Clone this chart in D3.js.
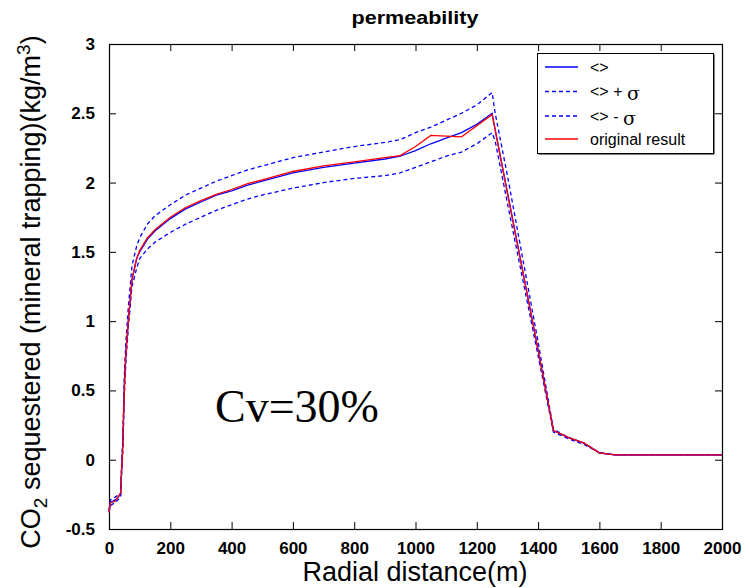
<!DOCTYPE html>
<html>
<head>
<meta charset="utf-8">
<script src="https://cdn.jsdelivr.net/npm/d3@7/dist/d3.min.js"></script>
<style>
  html, body { margin: 0; padding: 0; background: #fff; }
  svg { display: block; }
  text { font-family: "Liberation Sans", Arial, sans-serif; fill: #000; }
</style>
</head>
<body>
<svg id="chart" width="750" height="588"></svg>
<script>
// Radial distance (m) at which each profile is sampled
const radialDistance = [0, 5, 20, 38, 40, 45, 50, 55, 63, 75, 90, 100, 125, 150, 200, 250, 300, 350, 400, 450, 500, 600, 700, 800, 900, 950, 1000, 1050, 1100, 1150, 1200, 1250, 1260, 1300, 1350, 1400, 1450, 1500, 1550, 1600, 1650, 2000];

// Mean CO2 sequestered by mineral trapping (kg/m^3)
const meanValues = [-0.37, -0.31, -0.29, -0.25, -0.12, 0.12, 0.55, 0.78, 1.0, 1.3, 1.45, 1.50, 1.59, 1.65, 1.74, 1.81, 1.86, 1.91, 1.94, 1.98, 2.01, 2.07, 2.11, 2.14, 2.17, 2.19, 2.23, 2.28, 2.32, 2.36, 2.42, 2.50, 2.38, 1.93, 1.36, 0.79, 0.21, 0.16, 0.12, 0.05, 0.035, 0.035];

// Mean plus one standard deviation
const upperValues = [-0.36, -0.29, -0.27, -0.24, -0.10, 0.15, 0.60, 0.85, 1.10, 1.40, 1.54, 1.60, 1.70, 1.76, 1.84, 1.91, 1.96, 2.01, 2.05, 2.09, 2.12, 2.18, 2.22, 2.26, 2.29, 2.31, 2.36, 2.40, 2.45, 2.50, 2.56, 2.65, 2.50, 2.05, 1.45, 0.85, 0.22, 0.16, 0.12, 0.05, 0.035, 0.035];

// Mean minus one standard deviation
const lowerValues = [-0.38, -0.33, -0.31, -0.27, -0.16, 0.05, 0.45, 0.70, 0.95, 1.25, 1.38, 1.45, 1.52, 1.57, 1.64, 1.70, 1.75, 1.80, 1.84, 1.88, 1.91, 1.96, 2.00, 2.03, 2.05, 2.07, 2.11, 2.15, 2.19, 2.22, 2.28, 2.36, 2.30, 1.85, 1.30, 0.75, 0.20, 0.15, 0.11, 0.05, 0.035, 0.035];

// Deterministic (original) simulation result
const originalValues = [-0.38, -0.31, -0.30, -0.24, -0.14, 0.10, 0.50, 0.75, 1.0, 1.3, 1.45, 1.51, 1.60, 1.66, 1.75, 1.82, 1.87, 1.915, 1.95, 1.99, 2.02, 2.08, 2.12, 2.15, 2.18, 2.195, 2.26, 2.34, 2.335, 2.33, 2.41, 2.49, 2.38, 1.92, 1.36, 0.79, 0.21, 0.16, 0.12, 0.05, 0.035, 0.035];

const xTicks = [0, 200, 400, 600, 800, 1000, 1200, 1400, 1600, 1800, 2000];
const yTicks = [-0.5, 0, 0.5, 1, 1.5, 2, 2.5, 3];
const legendLabels = ["<>", "<> + ", "<> - ", "original result"];

const svg = d3.select("#chart");
const plot = { left: 109, right: 722, top: 44, bottom: 529 };

const x = d3.scaleLinear().domain([0, 2000]).range([plot.left, plot.right]);
const y = d3.scaleLinear().domain([-0.5, 3]).range([plot.bottom, plot.top]);

// Axes with inward ticks on all four sides
const tickLen = 7;
const fmt = d => String(d);
svg.append("g").attr("transform", `translate(0,${plot.bottom})`)
  .call(d3.axisBottom(x).tickValues(xTicks).tickSize(-tickLen).tickPadding(tickLen + 6).tickFormat(fmt))
  .call(g => g.select(".domain").remove());
svg.append("g").attr("transform", `translate(0,${plot.top})`)
  .call(d3.axisTop(x).tickValues(xTicks).tickSize(-tickLen).tickFormat(""))
  .call(g => g.select(".domain").remove());
svg.append("g").attr("transform", `translate(${plot.left},0)`)
  .call(d3.axisLeft(y).tickValues(yTicks).tickSize(-tickLen).tickPadding(tickLen + 7).tickFormat(fmt))
  .call(g => g.select(".domain").remove());
svg.append("g").attr("transform", `translate(${plot.right},0)`)
  .call(d3.axisRight(y).tickValues(yTicks).tickSize(-tickLen).tickFormat(""))
  .call(g => g.select(".domain").remove());

svg.selectAll(".tick line").attr("stroke", "#000").attr("stroke-width", 1);
svg.selectAll(".tick text")
  .style("font-family", '"Liberation Sans", Arial, sans-serif')
  .style("font-size", "17px").style("font-weight", "bold").attr("fill", "#000");

// Plot frame
svg.append("rect")
  .attr("x", plot.left + 0.5).attr("y", plot.top + 0.5)
  .attr("width", plot.right - plot.left).attr("height", plot.bottom - plot.top)
  .attr("fill", "none").attr("stroke", "#000").attr("stroke-width", 1.2);

// Curves
const series = [
  { values: meanValues, color: "#0000ff", dash: null },
  { values: upperValues, color: "#0000ff", dash: "4,3" },
  { values: lowerValues, color: "#0000ff", dash: "4,3" },
  { values: originalValues, color: "#ff0000", dash: null }
];
const line = d3.line().x(d => x(d[0])).y(d => y(d[1]));
const curves = svg.append("g");
series.forEach(s => {
  curves.append("path")
    .datum(radialDistance.map((r, i) => [r, s.values[i]]))
    .attr("d", line)
    .attr("fill", "none")
    .attr("stroke", s.color)
    .attr("stroke-width", 1.3)
    .attr("stroke-dasharray", s.dash);
});

// Legend
const lg = svg.append("g").attr("transform", "translate(537,53)");
lg.append("rect").attr("x", 1.5).attr("y", 1.5).attr("width", 176).attr("height", 100)
  .attr("fill", "#000");
lg.append("rect").attr("x", 0.5).attr("y", 0.5).attr("width", 176).attr("height", 100)
  .attr("fill", "#fff").attr("stroke", "#000").attr("stroke-width", 1);
const rowY = [14, 38.5, 63, 86];
series.forEach((s, i) => {
  lg.append("line").attr("x1", 8).attr("x2", 41).attr("y1", rowY[i]).attr("y2", rowY[i])
    .attr("stroke", s.color).attr("stroke-width", 1.3).attr("stroke-dasharray", s.dash);
  const t = lg.append("text").attr("x", 53).attr("y", rowY[i] + 5.5)
    .style("font-size", "16px").text(legendLabels[i]);
  if (i === 1 || i === 2) {
    t.append("tspan").attr("dy", 3).style("font-family", '"DejaVu Serif", serif')
      .style("font-size", "19px").text("σ");
  }
});

// Title
svg.append("text").attr("x", 415).attr("y", 24).attr("text-anchor", "middle")
  .style("font-size", "19px").style("font-weight", "bold")
  .attr("textLength", 127).attr("lengthAdjust", "spacingAndGlyphs")
  .text("permeability");

// X axis label
svg.append("text").attr("x", 415).attr("y", 581).attr("text-anchor", "middle")
  .style("font-size", "27px")
  .text("Radial distance(m)");

// Y axis label
const yl = svg.append("text")
  .attr("transform", "translate(40,292) rotate(-90)")
  .attr("text-anchor", "middle")
  .style("font-size", "27px");
yl.append("tspan").text("CO");
yl.append("tspan").attr("dy", 7).style("font-size", "19px").text("2");
yl.append("tspan").attr("dy", -7).text(" sequestered (mineral trapping)(kg/m");
yl.append("tspan").attr("dy", -10).style("font-size", "19px").text("3");
yl.append("tspan").attr("dy", 10).text(")");

// Coefficient of variation annotation
svg.append("text").attr("x", 215).attr("y", 422)
  .style("font-family", '"Liberation Serif", "Times New Roman", serif')
  .style("font-size", "46px")
  .text("Cv=30%");
</script>
</body>
</html>
